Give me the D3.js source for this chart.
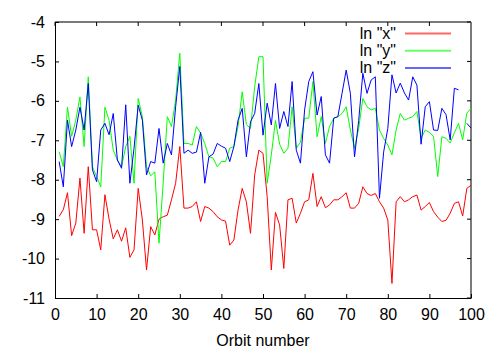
<!DOCTYPE html>
<html>
<head>
<meta charset="utf-8">
<script src="https://cdn.jsdelivr.net/npm/d3@7"></script>
<style>
  body { margin: 0; background: #fff; }
  svg { display: block; font-family: "Liberation Sans", Arial, sans-serif; }
  .axis text { font-size: 16px; fill: #000; }
</style>
</head>
<body>
<svg width="502" height="352"></svg>
<script>
// orbit numbers along x
const orbits = d3.range(1, 101);

// ln "x"
const lnX = [
  -8.93, -8.76, -8.33, -9.42, -9.10, -7.96, -9.36, -7.67, -9.27, -9.27,
  -9.78, -8.38, -9.00, -9.50, -9.27, -9.56, -9.22, -9.97, -9.78, -8.22,
  -9.02, -10.29, -9.19, -9.40, -9.00, -8.94, -8.90, -8.51, -8.09, -7.16,
  -8.72, -8.72, -8.68, -8.56, -9.06, -8.68, -8.72, -8.81, -8.94, -9.02,
  -9.05, -9.66, -9.53, -8.77, -8.22, -8.56, -9.36, -7.88, -7.25, -7.33,
  -8.43, -10.29, -8.83, -9.15, -10.25, -8.51, -8.47, -9.10, -8.85, -8.56,
  -8.51, -7.84, -8.68, -8.43, -8.71, -8.64, -8.51, -8.51, -8.43, -8.33,
  -8.72, -8.72, -8.60, -8.18, -8.35, -8.40, -8.35, -8.56, -8.72, -9.02,
  -10.63, -8.56, -8.43, -8.56, -8.51, -8.43, -8.39, -8.77, -8.68, -8.58,
  -8.81, -8.95, -9.06, -9.03, -8.85, -8.60, -8.56, -8.92, -8.22, -8.14
];

// ln "y"
const lnY = [
  -7.29, -7.67, -6.16, -6.90, -6.49, -5.90, -7.16, -5.39, -7.67, -7.92,
  -8.18, -6.16, -6.49, -7.25, -7.50, -7.67, -7.16, -6.90, -8.09, -5.94,
  -6.40, -7.67, -7.90, -7.80, -9.61, -8.09, -6.40, -6.65, -5.98, -4.79,
  -7.08, -7.08, -7.12, -6.65, -6.82, -7.08, -7.42, -7.45, -7.67, -7.54,
  -7.54, -7.20, -7.16, -6.65, -5.77, -6.60, -6.70, -5.64, -4.88, -4.88,
  -8.09, -7.37, -6.50, -7.10, -7.33, -7.20, -6.15, -7.20, -7.05, -6.44,
  -6.44, -5.51, -6.91, -6.40, -7.08, -6.65, -6.44, -6.40, -6.32, -6.15,
  -6.74, -7.20, -6.70, -5.94, -6.15, -6.23, -6.19, -6.74, -6.95, -7.12,
  -7.37, -6.74, -6.32, -6.49, -6.44, -6.40, -6.27, -6.95, -6.74, -6.80,
  -6.90, -7.92, -6.91, -6.95, -7.07, -6.81, -6.57, -6.99, -6.31, -6.19
];

// ln "z" (no value at orbit 98)
const lnZ = [
  -7.54, -8.18, -6.49, -7.16, -6.74, -6.16, -6.74, -5.56, -7.75, -8.05,
  -6.74, -6.57, -6.86, -6.32, -7.50, -7.71, -6.10, -8.09, -7.20, -6.11,
  -6.49, -7.88, -7.54, -7.58, -6.70, -7.58, -7.08, -7.37, -6.15, -5.13,
  -7.33, -7.25, -7.33, -7.30, -6.80, -8.09, -7.42, -7.35, -7.08, -7.15,
  -7.20, -7.54, -7.16, -6.49, -6.19, -7.42, -6.53, -6.32, -5.56, -6.87,
  -6.06, -6.61, -5.56, -6.70, -6.27, -6.65, -5.51, -7.25, -7.58, -6.23,
  -5.51, -5.26, -6.36, -5.89, -7.37, -7.58, -6.44, -6.40, -5.81, -5.22,
  -5.81, -7.42, -6.50, -5.30, -5.81, -5.47, -5.39, -8.47, -7.30, -6.70,
  -5.34, -5.80, -5.55, -5.80, -5.98, -5.39, -5.60, -7.10, -6.15, -6.02,
  -6.74, -6.75, -6.19, -6.35, -6.99, -5.68, -5.72, null, -6.57, -6.69
];

const seriesNames = ['ln "x"', 'ln "y"', 'ln "z"'];
const seriesColors = ["#ff0000", "#00ff00", "#0000ff"];
const xTicks = [0, 10, 20, 30, 40, 50, 60, 70, 80, 90, 100];
const yTicks = [-11, -10, -9, -8, -7, -6, -5, -4];

const svg = d3.select("svg");
const margin = { left: 55, right: 31, top: 22, bottom: 54 };
const width = 502 - margin.left - margin.right;
const height = 352 - margin.top - margin.bottom;

const g = svg.append("g").attr("transform", `translate(${margin.left},${margin.top})`);

const x = d3.scaleLinear().domain([0, 100]).range([0, width]);
const y = d3.scaleLinear().domain([-11, -4]).range([height, 0]);

// plain hyphen minus, integer labels
const fmt = d => String(d);

// mirrored top/right frame in grey
g.append("g")
  .attr("class", "axis")
  .call(d3.axisTop(x).tickValues(xTicks).tickSize(-4).tickSizeOuter(0).tickFormat("").offset(0))
  .call(a => a.select(".domain").attr("stroke", "#7a7a7a").attr("stroke-width", 2))
  .call(a => a.selectAll(".tick line").attr("stroke", "#000"));

g.append("g")
  .attr("class", "axis")
  .attr("transform", `translate(${width},0)`)
  .call(d3.axisRight(y).tickValues(yTicks).tickSize(-4).tickSizeOuter(0).tickFormat("").offset(0))
  .call(a => a.select(".domain").attr("stroke", "#7a7a7a").attr("stroke-width", 2))
  .call(a => a.selectAll(".tick line").attr("stroke", "#000"));

g.append("g")
  .attr("class", "axis")
  .attr("transform", `translate(0,${height})`)
  .call(d3.axisBottom(x).tickValues(xTicks).tickFormat(fmt).tickSize(-4).tickSizeOuter(0).tickPadding(11));

g.append("g")
  .attr("class", "axis")
  .call(d3.axisLeft(y).tickValues(yTicks).tickFormat(fmt).tickSize(-4).tickSizeOuter(0).tickPadding(10));

svg.selectAll(".axis").attr("font-family", null).attr("font-size", null);

// x label
svg.append("text")
  .attr("x", margin.left + width / 2)
  .attr("y", 346)
  .attr("text-anchor", "middle")
  .attr("font-size", 16)
  .text("Orbit number");

// lines
const line = d3.line()
  .defined(d => d[1] != null)
  .x(d => x(d[0]))
  .y(d => y(d[1]));

[lnX, lnY, lnZ].forEach((vals, i) => {
  g.append("path")
    .datum(orbits.map((o, j) => [o, vals[j]]))
    .attr("fill", "none")
    .attr("stroke", seriesColors[i])
    .attr("stroke-width", 1)
    .attr("d", line);
});

// key
const key = svg.append("g").attr("transform", "translate(396,33)");
const rows = key.selectAll("g")
  .data(seriesNames)
  .enter().append("g")
  .attr("transform", (d, i) => `translate(0,${i * 17.3})`);

rows.append("text")
  .attr("text-anchor", "end")
  .attr("dy", "0.35em")
  .attr("font-size", 16)
  .text(d => d);

rows.append("line")
  .attr("x1", 9).attr("x2", 55)
  .attr("y1", 0.5).attr("y2", 0.5)
  .attr("stroke", (d, i) => seriesColors[i])
  .attr("stroke-opacity", 0.6)
  .attr("stroke-width", 2);
</script>
</body>
</html>
